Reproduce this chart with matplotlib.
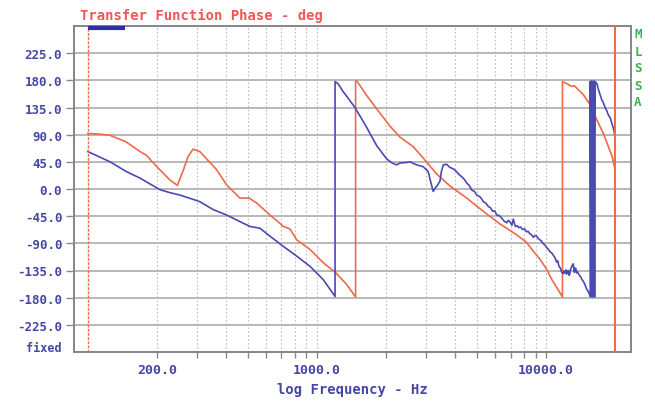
import matplotlib
matplotlib.use("Agg")
import matplotlib.pyplot as plt
from matplotlib.ticker import FixedLocator, NullFormatter

# phase data, already wrapped to +/-180 (repeated freq = wrap jump)
red_freq = [100, 112, 125, 147, 169, 180, 200, 228, 246, 261, 274, 288, 308, 365, 403,
            461, 506, 545, 623, 680, 713, 762, 815, 932, 1065, 1210, 1348, 1475,
            1475, 1500, 1649, 1822, 2085, 2303, 2634, 2900, 3330, 3810, 4505, 5325,
            6300, 6735, 7450, 8200, 8806, 9400, 10070, 10600, 11140, 11800,
            11800, 12400, 12900, 13300, 13700, 14500, 15500, 16000, 16700, 17800,
            19000, 19500, 20000]
red_phase = [92, 91, 89, 78, 62, 56, 37, 15, 6, 31, 54, 66, 62, 32, 7,
             -15, -15, -23, -43, -55, -62, -66, -84, -100, -122, -139, -158, -179,
             179, 178, 155, 133, 104, 86, 70, 52, 25, 5, -15, -37,
             -58, -65, -76, -88, -103, -116, -133, -150, -163, -179,
             178, 174, 170, 171, 166, 157, 141, 130, 114, 92,
             64, 52, 33]

blue_freq = [100, 125, 147, 169, 206, 228, 252, 298, 308, 352, 403, 461, 510, 564,
             623, 713, 815, 932, 1065, 1200,
             1200, 1239, 1303, 1347, 1465, 1649, 1822, 2014, 2130, 2228, 2303, 2463,
             2547, 2724, 2910, 3058, 3137, 3218, 3290, 3356, 3444, 3500, 3560, 3682,
             3800, 3950, 4063, 4200, 4300, 4420, 4505, 4620, 4750, 4870, 4984, 5150,
             5250, 5325, 5450, 5600, 5720, 5850, 5970, 6090, 6250, 6400, 6560, 6735,
             6850, 6950, 7100, 7200, 7350, 7500, 7600, 7750, 7900, 8050, 8220, 8350,
             8500, 8650, 8806, 8950, 9100, 9250, 9390, 9550, 9700, 9900, 10070,
             10250, 10400, 10600, 10780, 10950, 11120, 11250, 11400, 11550, 11720,
             11900, 12000, 12100, 12200, 12300, 12400, 12500, 12600, 12700, 12800,
             12900, 13000, 13150, 13300, 13400, 13500, 13600, 13700, 13850, 14000,
             14200, 14350, 14500, 14700, 14850, 15050, 15200, 15400, 15600,
             15600, 15700, 15800, 15900, 16000, 16100, 16200, 16300, 16400,
             16550, 16700, 16900, 17100, 17300, 17540, 17750, 18000, 18200, 18410,
             18650, 18900, 19100, 19310, 19500, 19700, 19850, 20000]
blue_phase = [62, 45, 29, 18, -1, -6, -10, -19, -21, -34, -43, -54, -62, -65,
              -78, -95, -111, -128, -150, -178,
              178, 174, 161, 154, 135, 102, 72, 50, 43, 40, 43, 44,
              45, 40, 37, 29, 12, -4, 2, 6, 13, 30, 40, 41,
              36, 33, 29, 23, 20, 15, 10, 6, -2, -4, -10, -13,
              -17, -21, -23, -29, -31, -37, -36, -43, -44, -48, -53, -56,
              -52, -54, -60, -50, -62, -61, -64, -63, -67, -66, -71, -70,
              -74, -76, -80, -77, -78, -82, -84, -86, -90, -93, -97,
              -100, -104, -106, -110, -114, -121, -119, -128, -131, -138,
              -140, -136, -139, -134, -141, -137, -135, -143, -141, -133,
              -130, -127, -124, -138, -131, -132, -139, -137, -140, -143,
              -146, -150, -152, -156, -160, -166, -168, -172, -178,
              178, -178, 179, -179, 178, -178, 179, -179, 178,
              176, 174, 166, 160, 154, 147, 144, 138, 133, 130,
              124, 120, 117, 111, 106, 100, 95, 86]

y_ticks = [225, 180, 135, 90, 45, 0, -45, -90, -135, -180, -225]
x_major = [200, 1000, 10000]
x_minor = [300, 400, 500, 600, 700, 800, 900,
           2000, 3000, 4000, 5000, 6000, 7000, 8000, 9000]
cursors = [100, 20000]

RED = "#ee6a48"
BLUE = "#4a4ab4"
LABEL = "#4646a6"
mono = "DejaVu Sans Mono"

fig = plt.figure(figsize=(6.55, 4.02), dpi=100)
ax = fig.add_axes([74 / 655, 1 - 353 / 402, 557 / 655, 326 / 402])

ax.set_xscale("log")
ax.set_xlim(87, 23500)
ax.set_ylim(-270, 270)

# grid: solid horizontals, dotted verticals
for y in y_ticks:
    ax.axhline(y, color="#b2b2b2", lw=1.3, zorder=1)
for f in x_major + x_minor:
    ax.axvline(f, color="#bcbcbc", lw=0.8, ls=(0, (1.5, 2)), zorder=1)

ax.plot(red_freq, red_phase, color=RED, lw=1.2, zorder=3)
ax.plot(blue_freq, blue_phase, color=BLUE, lw=1.2, zorder=4)

# cursor lines
ax.axvline(cursors[0], color=RED, lw=1.0, ls=(0, (2, 1)), zorder=5)
ax.axvline(cursors[1], color=RED, lw=1.5, zorder=5)

# marker bar on top edge
ax.plot([100, 145], [266, 266], color="#2f2fa0", lw=3, solid_capstyle="butt",
        clip_on=False, zorder=6)

ax.xaxis.set_major_locator(FixedLocator(x_major))
ax.xaxis.set_minor_locator(FixedLocator(x_minor))
ax.xaxis.set_minor_formatter(NullFormatter())
ax.set_xticklabels(["%.1f" % v for v in x_major])
ax.set_yticks(y_ticks)
ax.set_yticklabels(["%.1f" % v for v in y_ticks])

for s in ax.spines.values():
    s.set_color("#858585")
    s.set_linewidth(1.4)

ax.tick_params(axis="both", which="both", direction="out", color="#8a8a8a",
               width=1.0, labelcolor=LABEL)
ax.tick_params(axis="y", length=5.5, pad=3)
ax.tick_params(axis="x", which="both", length=4, pad=4)
for lab in ax.get_yticklabels():
    lab.set_fontfamily(mono)
    lab.set_fontweight("bold")
    lab.set_fontsize(9)
for lab in ax.get_xticklabels():
    lab.set_fontfamily(mono)
    lab.set_fontweight("bold")
    lab.set_fontsize(9.5)

fig.text(62 / 655, 1 - 349 / 402, "fixed", ha="right", va="center",
         color=LABEL, fontfamily=mono, fontweight="bold", fontsize=8.5)
fig.text(80 / 655, 1 - 16 / 402, "Transfer Function Phase - deg", ha="left",
         va="center", color="#f05656", fontfamily=mono, fontweight="bold",
         fontsize=10)
fig.text(352 / 655, 1 - 390 / 402, "log Frequency - Hz", ha="center",
         va="center", color=LABEL, fontfamily=mono, fontweight="bold",
         fontsize=10)

for i, ch in enumerate("MLSSA"):
    fig.text(638 / 655, 1 - (35 + 17 * i) / 402, ch, ha="center", va="center",
             color="#3cb050", fontfamily=mono, fontweight="bold", fontsize=9)

fig.savefig("out.png", dpi=100, facecolor="white")
